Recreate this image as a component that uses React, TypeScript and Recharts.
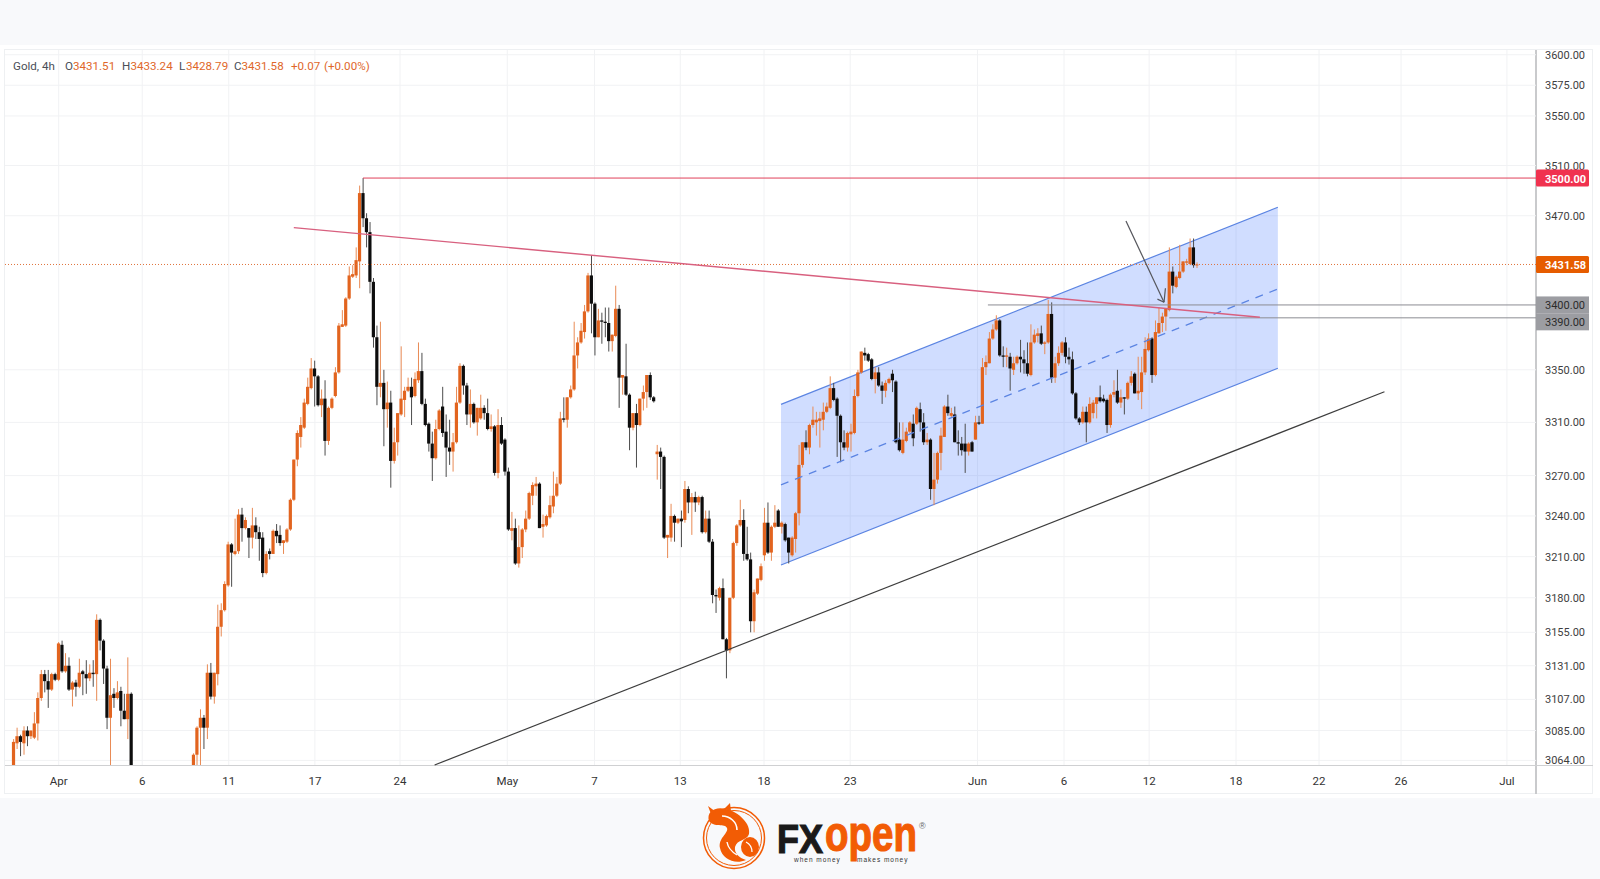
import { Area, Bar, CartesianGrid, ComposedChart, ReferenceLine, XAxis, YAxis } from 'recharts'

// Gold 4h candles. Nulls are the bars that fall below the visible price range.
const opens = [
  3052,3076,3081,3076,3085,3081,3080,3090,3108,3125,
  3120,3114,3125,3121,3146,3127,3131,3114,3119,3116,
  3127,3125,3122,3126,3125,3164,3149,3129,3094,3111,
  3108,3113,3099,3093,3111,null,null,null,null,null,
  null,null,null,null,null,null,null,null,null,null,
  null,null,3050,3068,3087,3094,3087,3126,3109,3125,
  3159,3171,3189,3219,3212,3214,3241,3231,3231,3224,
  3233,3228,3224,3198,3214,3212,3229,3226,3220,3221,
  3230,3252,3282,3299,3306,3324,3336,3351,3345,3323,
  3328,3296,3321,3330,3348,3383,3384,3405,3422,3423,
  3434,3488,3468,3457,3418,3375,3337,3340,3320,3325,
  3281,3295,3316,3327,3334,3337,3330,3342,3349,3324,
  3309,3294,3283,3305,3322,3303,3291,3288,3295,3325,
  3353,3338,3316,3324,3310,3313,3321,3317,3305,3307,
  3272,3308,3297,3273,3229,3231,3205,3217,3230,3238,
  3255,3262,3264,3232,3233,3239,3247,3255,3264,3313,
  3312,3329,3335,3361,3371,3379,3395,3423,3401,3375,
  3388,3387,3386,3372,3376,3397,3344,3345,3331,3306,
  3317,3308,3328,3333,3346,3329,3286,3288,3284,3224,
  3224,3240,3235,3238,3237,3260,3250,3254,3250,3254,
  3228,3238,3221,3182,3180,3187,3150,3142,3180,3220,
  3233,3237,3212,3208,3163,3183,3193,3211,3235,3213,
  3232,3244,3232,3234,3224,3211,3223,3242,3278,3295,
  3291,3308,3310,3311,3312,3318,3321,3336,3328,3315,
  3295,3291,3301,3302,3330,3348,3363,3362,3358,3343,
  3348,3338,3334,3340,3347,3341,3297,3287,3296,3303,
  3309,3309,3320,3310,3295,3297,3260,3267,3287,3299,
  3322,3315,3316,3295,3294,3294,3288,3295,3297,3310,
  3309,3352,3355,3374,3381,3388,3361,3360,3360,3350,
  3355,3360,3358,3355,3346,3371,3376,3378,3370,3371,
  3393,3344,3355,3363,3371,3360,3358,3332,3313,3310,
  3318,3310,3317,3324,3329,3328,3327,3308,3331,3334,
  3325,3329,3328,3340,3347,3332,3333,3348,3365,3374,
  3346,3378,3386,3391,3396,3426,3414,3421,3426,3433,
  3432,3445,3431.51,
]
const highs = [
  3079,3087,3082,3088,3088,3085,3098,3112,3128,3128,
  3128,3126,3126,3148,3149,3140,3137,3120,3121,3136,
  3128,3135,3132,3135,3168,3165,3150,3131,3136,3115,
  3120,3116,3111,3137,3112,null,null,null,null,null,
  null,null,null,null,null,null,null,null,null,null,
  null,null,3069,3088,3100,3096,3132,3133,3126,3175,
  3176,3192,3221,3220,3238,3245,3246,3239,3231,3246,
  3239,3232,3228,3214,3216,3230,3234,3233,3222,3231,
  3253,3282,3304,3314,3328,3344,3359,3357,3346,3335,
  3342,3322,3329,3352,3386,3396,3406,3430,3431,3445,
  3494,3500,3472,3465,3421,3384,3387,3350,3341,3334,
  3306,3317,3368,3337,3344,3344,3348,3371,3363,3328,
  3310,3303,3312,3320,3337,3316,3312,3302,3337,3355,
  3354,3340,3335,3325,3321,3331,3323,3328,3316,3308,
  3320,3314,3298,3276,3243,3238,3233,3231,3244,3258,
  3265,3269,3265,3241,3241,3255,3273,3269,3318,3329,
  3329,3338,3387,3375,3386,3400,3425,3439,3402,3397,
  3394,3398,3398,3377,3415,3400,3346,3370,3332,3317,
  3324,3328,3338,3346,3348,3330,3293,3291,3285,3226,
  3249,3241,3238,3244,3266,3262,3257,3258,3255,3255,
  3244,3244,3223,3186,3188,3194,3151,3180,3221,3234,
  3252,3245,3232,3213,3186,3194,3205,3246,3250,3233,
  3248,3245,3236,3235,3224,3225,3243,3293,3295,3304,
  3309,3322,3318,3318,3325,3325,3345,3340,3329,3316,
  3304,3303,3309,3335,3350,3364,3367,3363,3359,3352,
  3352,3341,3342,3344,3350,3342,3310,3310,3306,3311,
  3316,3322,3325,3317,3302,3298,3287,3288,3306,3323,
  3331,3321,3322,3304,3299,3309,3295,3296,3315,3315,
  3359,3361,3379,3385,3392,3389,3368,3367,3363,3360,
  3361,3373,3365,3371,3385,3381,3382,3384,3372,3404,
  3402,3360,3368,3372,3375,3367,3364,3333,3314,3322,
  3322,3329,3327,3329,3338,3331,3328,3332,3342,3350,
  3335,3329,3341,3349,3348,3360,3360,3375,3378,3375,
  3388,3398,3394,3397,3445,3430,3423,3447,3434,3436,
  3452,3452,3433.24,
]
const lows = [
  3045,3072,3067,3068,3074,3079,3079,3078,3106,3112,
  3101,3113,3120,3120,3126,3126,3113,3102,3109,3115,
  3110,3111,3120,3116,3106,3142,3118,3086,3050,3101,
  3107,3088,3093,3079,3040,null,null,null,null,null,
  null,null,null,null,null,null,null,null,null,null,
  null,null,3045,3050,3058,3072,3079,3107,3104,3117,
  3152,3170,3188,3188,3211,3212,3221,3230,3209,3216,
  3223,3207,3195,3197,3208,3212,3220,3218,3212,3220,
  3229,3251,3277,3291,3305,3323,3335,3322,3322,3314,
  3285,3293,3320,3329,3347,3383,3383,3404,3421,3421,
  3413,3461,3445,3409,3367,3323,3329,3292,3306,3261,
  3279,3285,3315,3314,3333,3308,3329,3340,3323,3307,
  3288,3266,3282,3304,3299,3269,3278,3273,3294,3324,
  3331,3308,3306,3309,3300,3312,3312,3304,3303,3270,
  3268,3293,3270,3229,3222,3204,3202,3209,3228,3237,
  3248,3255,3231,3224,3232,3238,3242,3254,3263,3310,
  3306,3328,3334,3351,3370,3374,3394,3378,3361,3375,
  3370,3375,3364,3364,3375,3321,3331,3330,3289,3304,
  3276,3307,3319,3321,3327,3325,3267,3260,3223,3209,
  3221,3221,3234,3217,3235,3242,3226,3243,3248,3227,
  3227,3220,3176,3169,3178,3150,3122,3140,3179,3218,
  3232,3207,3207,3155,3155,3182,3192,3207,3212,3207,
  3231,3232,3227,3221,3205,3210,3213,3233,3276,3289,
  3286,3306,3300,3291,3304,3317,3320,3326,3284,3280,
  3289,3288,3288,3301,3329,3347,3357,3356,3342,3332,
  3337,3324,3329,3339,3333,3294,3288,3286,3295,3302,
  3292,3308,3303,3293,3293,3252,3248,3264,3274,3299,
  3315,3314,3295,3285,3285,3272,3285,3288,3297,3308,
  3309,3346,3355,3373,3380,3360,3352,3352,3334,3346,
  3354,3348,3347,3345,3345,3370,3371,3369,3362,3370,
  3340,3340,3353,3361,3355,3354,3331,3312,3308,3309,
  3295,3309,3313,3313,3325,3325,3302,3306,3329,3324,
  3321,3316,3327,3338,3332,3327,3320,3346,3364,3340,
  3345,3378,3379,3380,3395,3409,3413,3420,3425,3431,
  3431,3429,3428.79,
]
const closes = [
  3077,3081,3077,3085,3081,3085,3090,3108,3125,3120,
  3114,3125,3121,3147,3127,3131,3114,3119,3116,3126,
  3125,3122,3126,3125,3164,3149,3129,3094,3110,3108,
  3112,3099,3093,3111,3050,null,null,null,null,null,
  null,null,null,null,null,null,null,null,null,null,
  null,null,3068,3087,3094,3087,3126,3109,3126,3159,
  3171,3190,3219,3213,3214,3241,3231,3237,3224,3233,
  3228,3223,3198,3212,3212,3229,3225,3220,3222,3230,
  3252,3282,3302,3308,3325,3337,3351,3345,3323,3328,
  3296,3321,3328,3348,3384,3385,3405,3423,3424,3435,
  3488,3468,3457,3418,3375,3337,3340,3320,3325,3281,
  3295,3317,3328,3334,3337,3329,3343,3349,3324,3308,
  3294,3283,3305,3319,3302,3291,3288,3295,3325,3353,
  3338,3316,3324,3310,3321,3321,3317,3305,3307,3272,
  3308,3294,3273,3230,3231,3205,3217,3230,3238,3257,
  3263,3264,3231,3234,3240,3248,3255,3264,3313,3312,
  3329,3335,3361,3371,3380,3395,3423,3401,3375,3388,
  3387,3386,3372,3377,3397,3344,3346,3331,3306,3317,
  3308,3328,3333,3346,3329,3326,3288,3284,3224,3226,
  3240,3235,3238,3236,3260,3250,3254,3250,3254,3228,
  3238,3221,3182,3181,3187,3150,3142,3180,3220,3233,
  3237,3212,3208,3163,3184,3194,3203,3235,3213,3232,
  3235,3232,3235,3222,3213,3224,3242,3278,3295,3291,
  3308,3312,3312,3313,3318,3322,3336,3327,3315,3295,
  3291,3302,3303,3330,3348,3364,3361,3357,3343,3348,
  3338,3334,3340,3343,3342,3295,3289,3297,3303,3310,
  3298,3321,3310,3295,3297,3260,3267,3287,3300,3322,
  3317,3317,3295,3294,3289,3288,3294,3288,3310,3309,
  3352,3356,3374,3381,3388,3361,3360,3361,3351,3355,
  3360,3358,3355,3347,3371,3377,3378,3370,3371,3393,
  3344,3355,3363,3371,3360,3358,3332,3313,3310,3318,
  3310,3324,3325,3329,3326,3326,3308,3331,3333,3325,
  3329,3328,3340,3345,3332,3334,3348,3366,3374,3346,
  3379,3386,3391,3397,3426,3415,3422,3426,3434,3434,
  3445,3431,3431.58,
]

const priceTicks = [3600, 3575, 3550, 3510, 3470, 3350, 3310, 3270, 3240, 3210, 3180, 3155, 3131, 3107, 3085, 3064]
const levelTicks = [3500, 3431.58, 3400, 3390]
const dateTicks = [13.06, 37.2, 62.2, 87.1, 111.7, 142.7, 167.9, 192.7, 216.9, 241.8, 278.6, 303.6, 328.2, 353.3, 377.3, 401, 431.6]
const dateLabels = ['Apr', '6', '11', '17', '24', 'May', '7', '13', '18', '23', 'Jun', '6', '12', '18', '22', '26', 'Jul']

// drawings, as [bar index, price]
const channelBars = [221.8, 365.4]
const channelLower = [3203.9, 3351.2]
const channelUpper = [3323.6, 3476.7]
const channelMiddle = [3263.1, 3412.4]
const resistanceLine = [[81, 3460.6], [360.2, 3390.5]]
const supportLine = [[121.7, 3060.8], [396.2, 3333.2]]
const arrowShaft = [[321.5, 3465.9], [332.5, 3402.1]]
const arrowBarbA = [[330.6, 3404.5], [332.5, 3402.1]]
const arrowBarbB = [[332.9, 3413], [332.5, 3402.1]]

const BAR_MIN = -2.46
const BAR_MAX = 440

const rows = opens.flatMap((open, i) => {
  if (open === null) return []
  const close = closes[i] as number
  return [{
    bar: i,
    up: close >= open,
    body: [Math.min(open, close), Math.max(open, close)],
    wick: [lows[i], highs[i]],
  }]
})

const channelRows = channelBars.map((bar, i) => ({
  bar,
  band: [channelLower[i], channelUpper[i]],
}))

const segment = (pts: number[][]) => pts.map(([x, y]) => ({ x, y }))

const FONT = 'Roboto, sans-serif'

function WickShape({ x, y, width, height, payload }: any) {
  return <rect x={x + width / 2 - 0.5} y={y} width={1} height={height} fill={payload.up ? '#e98b55' : '#4d4d4d'} />
}

function BodyShape({ x, y, width, height, payload }: any) {
  return <rect x={x + width / 2 - 1.6} y={y} width={3.2} height={Math.max(height, 1)} fill={payload.up ? '#e2641f' : '#0d0d0d'} />
}

function PriceTick({ x, y, payload }: any) {
  const v = payload.value
  const text = v.toFixed(2)
  if (v === 3500 || v === 3431.58) {
    return (
      <g>
        <rect x={x} y={y - 8.5} width={53} height={17} rx={1.5} fill={v === 3500 ? '#f0324f' : '#e65c00'} />
        <text x={x + 9} y={y + 4.5} fontSize={11} fontWeight={700} fontFamily={FONT} fill="#fff">{text}</text>
      </g>
    )
  }
  if (v === 3400 || v === 3390) {
    const top = v === 3400 ? y - 8.5 : y - 4.5
    return (
      <g>
        <rect x={x} y={top} width={53} height={17} fill="#9c9da2" />
        <text x={x + 9} y={top + 13} fontSize={11} fontFamily={FONT} fill="#2b2b2b">{text}</text>
      </g>
    )
  }
  return <text x={x + 9} y={y + 4} fontSize={11} fontFamily={FONT} fill="#3e3e3e">{text}</text>
}

function Legend() {
  const seg = (left: number, text: string, color: string) => (
    <span style={{ position: 'absolute', left, top: 58, fontFamily: FONT, fontSize: 11.6, lineHeight: '16px', color, whiteSpace: 'nowrap' }}>{text}</span>
  )
  const grey = '#4a4f58'
  const orange = '#e0672a'
  return (
    <>
      {seg(13, 'Gold, 4h', grey)}
      {seg(65, 'O', grey)}
      {seg(73, '3431.51', orange)}
      {seg(122, 'H', grey)}
      {seg(130.5, '3433.24', orange)}
      {seg(179, 'L', grey)}
      {seg(186, '3428.79', orange)}
      {seg(234, 'C', grey)}
      {seg(241.5, '3431.58', orange)}
      {seg(291, '+0.07', orange)}
      {seg(324, '(+0.00%)', orange)}
    </>
  )
}

function Logo() {
  const orange = '#f25c05'
  return (
    <svg width={300} height={81} viewBox="660 798 300 81" style={{ position: 'absolute', left: 660, top: 798 }}>
      <circle cx={734} cy={838} r={30.5} fill="none" stroke={orange} strokeWidth={1.5} />
      <circle cx={734} cy={838} r={27.5} fill="none" stroke={orange} strokeWidth={1} />
      <path d="M709 821 C706 811 716 806 726 809 C739 812 751 824 749 834 C747 841 737 839 735 847 C734 853 739 858 746 860 C735 865 722 859 720 848 C718 838 729 833 727 828 C725 823 714 828 709 821 Z" fill={orange} />
      <path d="M716 812 L708 806 L711 814 Z M724 809 L730 803 L731 811 Z" fill={orange} />
      <ellipse cx={750} cy={847} rx={9} ry={10} fill={orange} />
      <path d="M722 816 C730 816 737 822 737 830" fill="none" stroke="#fff" strokeWidth={1.6} />
      <path d="M727 842 C728 848 732 852 737 855" fill="none" stroke="#fff" strokeWidth={1.4} />
      <path d="M746 842 C750 844 752 848 752 852" fill="none" stroke="#fff" strokeWidth={1.2} />
      <text x={777} y={853} fontFamily="Liberation Sans, sans-serif" fontWeight={700} fontSize={41} textLength={46} lengthAdjust="spacingAndGlyphs" stroke="#1a1a1a" strokeWidth={1.2} fill="#1a1a1a">FX</text>
      <text x={825} y={851} fontFamily="Liberation Sans, sans-serif" fontWeight={700} fontSize={50} textLength={92} lengthAdjust="spacingAndGlyphs" stroke={orange} strokeWidth={1.2} fill={orange}>open</text>
      <text x={794} y={862} fontFamily="Liberation Sans, sans-serif" fontSize={6.5} letterSpacing={1} fill="#333">when money</text>
      <text x={857} y={862} fontFamily="Liberation Sans, sans-serif" fontSize={6.5} letterSpacing={1} fill="#333">makes money</text>
      <text x={919} y={829} fontFamily="Liberation Sans, sans-serif" fontSize={9} fill="#666">®</text>
    </svg>
  )
}

export default function App() {
  return (
    <div style={{ position: 'absolute', left: 0, top: 0, width: 1600, height: 879, background: '#fff', overflow: 'hidden' }}>
      <div style={{ position: 'absolute', left: 0, top: 0, width: 1600, height: 45, background: '#f8f9fb' }} />
      <div style={{ position: 'absolute', left: 0, top: 798, width: 1600, height: 81, background: '#f8f9fb' }} />
      <div style={{ position: 'absolute', left: 4, top: 49, width: 1589, height: 745, boxSizing: 'border-box', border: '1.5px solid #eef0f2' }} />
      <div style={{ position: 'absolute', left: 1535, top: 50, width: 2, height: 744, background: '#c9cacc' }} />
      <div style={{ position: 'absolute', left: 5, top: 764.5, width: 1588, height: 1.5, background: '#cfd0d2' }} />

      <div style={{ position: 'absolute', left: 0, top: 0 }}>
        <ComposedChart
          width={1600}
          height={879}
          data={rows}
          margin={{ top: 50, right: 7, bottom: 86, left: 5 }}
        >
          <XAxis
            xAxisId="main"
            dataKey="bar"
            type="number"
            domain={[BAR_MIN, BAR_MAX]}
            ticks={dateTicks}
            interval={0}
            height={28}
            axisLine={false}
            tickLine={false}
            tickMargin={6}
            tick={{ fontSize: 11.5, fontFamily: FONT, fill: '#333' }}
            tickFormatter={(v: number) => dateLabels[dateTicks.indexOf(v)]}
          />
          <XAxis xAxisId="wick" dataKey="bar" type="number" domain={[BAR_MIN, BAR_MAX]} hide />
          <YAxis
            orientation="right"
            type="number"
            scale="log"
            domain={[3060.8, 3603.9]}
            allowDataOverflow
            ticks={[...priceTicks, ...levelTicks]}
            interval={0}
            width={57}
            axisLine={false}
            tickLine={false}
            tickSize={0}
            tickMargin={0}
            tick={PriceTick}
          />
          <CartesianGrid
            xAxisId="main"
            stroke="#f1f2f4"
            strokeWidth={1}
            horizontalValues={priceTicks}
            verticalValues={dateTicks}
          />

          <Area
            xAxisId="main"
            data={channelRows}
            dataKey="band"
            type="linear"
            stroke="#5b84e2"
            strokeWidth={1.2}
            fill="#2962ff"
            fillOpacity={0.22}
            dot={false}
            activeDot={false}
            isAnimationActive={false}
          />
          <ReferenceLine
            xAxisId="main"
            segment={[{ x: channelBars[0], y: channelMiddle[0] }, { x: channelBars[1], y: channelMiddle[1] }]}
            stroke="#5b84e2"
            strokeWidth={1.2}
            strokeDasharray="8 7"
          />

          <Bar xAxisId="wick" dataKey="wick" shape={WickShape} isAnimationActive={false} />
          <Bar xAxisId="main" dataKey="body" shape={BodyShape} isAnimationActive={false} />

          <ReferenceLine xAxisId="main" y={3431.58} stroke="#e0743c" strokeWidth={1} strokeDasharray="1 2" />
          <ReferenceLine xAxisId="main" segment={[{ x: 101, y: 3500 }, { x: BAR_MAX, y: 3500 }]} stroke="#e0405a" strokeWidth={1} />
          <ReferenceLine xAxisId="main" segment={[{ x: 281.6, y: 3400 }, { x: BAR_MAX, y: 3400 }]} stroke="#8b8c92" strokeWidth={1} />
          <ReferenceLine xAxisId="main" segment={[{ x: 334, y: 3390 }, { x: BAR_MAX, y: 3390 }]} stroke="#8b8c92" strokeWidth={1} />
          <ReferenceLine xAxisId="main" segment={segment(resistanceLine)} stroke="#d8607f" strokeWidth={1.4} />
          <ReferenceLine xAxisId="main" segment={segment(supportLine)} stroke="#3d3d3d" strokeWidth={1.2} />
          <ReferenceLine xAxisId="main" segment={segment(arrowShaft)} stroke="#55565c" strokeWidth={1.2} />
          <ReferenceLine xAxisId="main" segment={segment(arrowBarbA)} stroke="#55565c" strokeWidth={1.2} />
          <ReferenceLine xAxisId="main" segment={segment(arrowBarbB)} stroke="#55565c" strokeWidth={1.2} />
        </ComposedChart>
      </div>

      <Legend />
      <Logo />
    </div>
  )
}
